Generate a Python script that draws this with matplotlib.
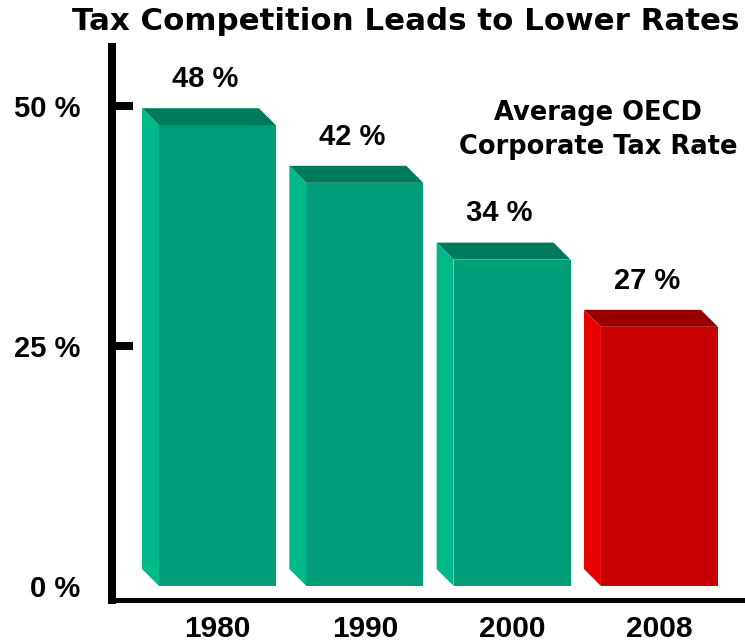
import matplotlib
matplotlib.use("Agg")
import matplotlib.pyplot as plt
from matplotlib.patches import Polygon

# ---- data ----
years = ["1980", "1990", "2000", "2008"]
rates = [48, 42, 34, 27]
rate_labels = ["48 %", "42 %", "34 %", "27 %"]
ytick_values = [0, 25, 50]
ytick_labels = ["0 %", "25 %", "50 %"]

# ---- style ----
FONT = "Liberation Sans"
HEAVY = "DejaVu Sans"
front_cols = ["#009E78", "#009E78", "#009E78", "#C80000"]
top_cols = ["#007A5C", "#007A5C", "#007A5C", "#960000"]
side_cols = ["#00B88A", "#00B88A", "#00B88A", "#E60000"]
BAR_W = 0.794
DEPTH_PX = 17

W, H = 745, 643
fig = plt.figure(figsize=(W / 100, H / 100), dpi=100)
ax = fig.add_axes([112 / W, (H - 600) / H, (W - 112) / W, (600 - 47) / H])

x = list(range(len(years)))
ax.set_xlim(-0.716, 3.581)
ax.set_ylim(-1.46, 56.15)

# depth offsets in data units
p0 = ax.transData.transform((0, 0))
p1 = ax.transData.transform((1, 1))
ddx = DEPTH_PX / (p1[0] - p0[0])
ddy = DEPTH_PX / (p1[1] - p0[1])

ax.bar(x, rates, width=BAR_W, color=front_cols, zorder=3, linewidth=0)
for xi, v, tc, sc, lab in zip(x, rates, top_cols, side_cols, rate_labels):
    xl, xr = xi - BAR_W / 2, xi + BAR_W / 2
    top = Polygon([(xl - ddx, v + ddy), (xr - ddx, v + ddy), (xr, v), (xl, v)],
                  closed=True, facecolor=tc, edgecolor="none", zorder=3)
    side = Polygon([(xl - ddx, ddy), (xl - ddx, v + ddy), (xl, v), (xl, 0)],
                   closed=True, facecolor=sc, edgecolor="none", zorder=3)
    ax.add_patch(top)
    ax.add_patch(side)
    ax.annotate(lab, xy=(xi - ddx / 2, v + ddy), xytext=(-3, 21),
                textcoords="offset points", ha="center", va="center",
                fontsize=21, fontweight="bold", family=FONT)

# axes styling
for s in ["top", "right"]:
    ax.spines[s].set_visible(False)
ax.spines["left"].set_linewidth(5.8)
ax.spines["bottom"].set_linewidth(3.6)
ax.spines["left"].set_capstyle("projecting")
ax.spines["bottom"].set_capstyle("projecting")

ax.set_yticks(ytick_values)
ax.set_yticklabels(ytick_labels, fontsize=21, fontweight="bold", family=FONT)
ax.tick_params(axis="y", direction="in", length=15, width=5.8, pad=23)
ax.yaxis.get_major_ticks()[0].tick1line.set_visible(False)

ax.set_xticks(x)
ax.set_xticklabels(years, fontsize=21.5, fontweight="bold", family=FONT)
ax.tick_params(axis="x", length=0, pad=11)

fig.text(406 / W, 1 - 21 / H, "Tax Competition Leads to Lower Rates",
         ha="center", va="center", fontsize=22.2, fontweight="bold", family=HEAVY)
fig.text(598 / W, 1 - 130 / H, "Average OECD\nCorporate Tax Rate",
         ha="center", va="center", multialignment="center", linespacing=1.35,
         fontsize=18.5, fontweight="bold", family=HEAVY)

fig.savefig("out.png", dpi=100)
